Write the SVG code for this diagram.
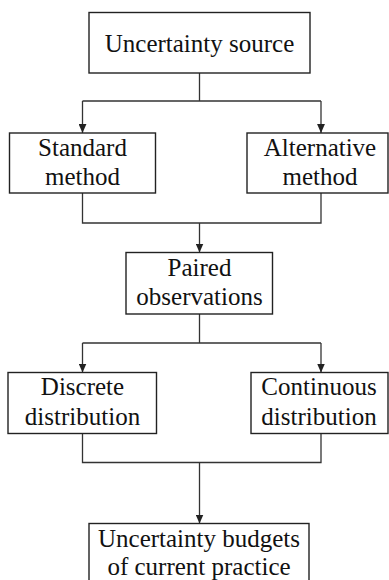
<svg xmlns="http://www.w3.org/2000/svg" width="389" height="580" viewBox="0 0 389 580">
<style>
.box{fill:#fff;stroke:#222;stroke-width:1.4}
.t{font-family:"Liberation Serif",Tinos,"DejaVu Serif",serif;font-size:25px;fill:#111;text-anchor:middle}
.c{fill:none;stroke:#333;stroke-width:1.3}
</style>
<defs>
<marker id="ah" markerUnits="userSpaceOnUse" markerWidth="9" markerHeight="8" refX="8" refY="3.5" orient="auto" viewBox="0 0 8 7">
<path d="M0,0 L8,3.5 L0,7 Z" fill="#222"/>
</marker>
</defs>
<rect width="389" height="580" fill="#fff"/>
<g id="connectors">
<path class="c" d="M199.5,73 V101 M82.5,101 H321"/>
<path class="c" d="M82.5,101 V133" marker-end="url(#ah)"/>
<path class="c" d="M321,101 V133" marker-end="url(#ah)"/>
<path class="c" d="M82.5,193 V223 H321 V193"/>
<path class="c" d="M199.5,223 V252.5" marker-end="url(#ah)"/>
<path class="c" d="M199.5,314 V343 M82.5,343 H321"/>
<path class="c" d="M82.5,343 V372.5" marker-end="url(#ah)"/>
<path class="c" d="M321,343 V372.5" marker-end="url(#ah)"/>
<path class="c" d="M82.5,433.5 V462.5 H321 V433.5"/>
<path class="c" d="M199.5,462.5 V523.5" marker-end="url(#ah)"/>
</g>
<g id="uncertainty-source">
<rect class="box" x="89" y="12.5" width="221" height="60.5"/>
<text class="t" x="199.5" y="52" font-family="Liberation Serif, serif">Uncertainty source</text>
</g>
<g id="standard-method">
<rect class="box" x="9.5" y="133" width="146" height="60"/>
<text class="t" x="82.5" y="156">Standard</text>
<text class="t" x="82.5" y="185">method</text>
</g>
<g id="alternative-method">
<rect class="box" x="247" y="133" width="141" height="60"/>
<text class="t" x="320" y="156">Alternative</text>
<text class="t" x="320" y="185">method</text>
</g>
<g id="paired-observations">
<rect class="box" x="126" y="252.5" width="146.5" height="61.5"/>
<text class="t" x="199.5" y="276">Paired</text>
<text class="t" x="199.5" y="305">observations</text>
</g>
<g id="discrete-distribution">
<rect class="box" x="8" y="372.5" width="148.5" height="61"/>
<text class="t" x="82.5" y="395">Discrete</text>
<text class="t" x="82.5" y="425">distribution</text>
</g>
<g id="continuous-distribution">
<rect class="box" x="251" y="372.5" width="137" height="61"/>
<text class="t" x="319" y="395">Continuous</text>
<text class="t" x="319" y="425">distribution</text>
</g>
<g id="uncertainty-budgets">
<rect class="box" x="89" y="523.5" width="220" height="70"/>
<text class="t" x="199" y="547">Uncertainty budgets</text>
<text class="t" x="199" y="575">of current practice</text>
</g>
</svg>
